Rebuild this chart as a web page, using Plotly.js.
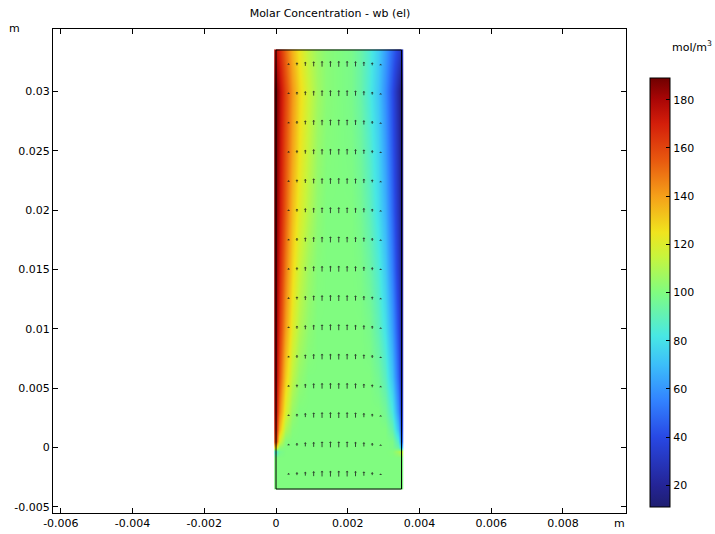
<!DOCTYPE html>
<html>
<head>
<meta charset="utf-8">
<script src="https://cdn.plot.ly/plotly-3.0.1.min.js"></script>
<style>html,body{margin:0;padding:0;background:#fff;}#plot{width:715px;height:534px;}</style>
</head>
<body>
<div id="plot"></div>
<script>
// ---- field grid (m) ----
const gridX = [0, 0.0001, 0.00026, 0.00045, 0.00065, 0.0009, 0.00115, 0.0014, 0.00175, 0.0021, 0.00235, 0.0026, 0.00285, 0.00305, 0.00324, 0.0034, 0.0035];
const gridY = [-0.0035, -0.0034, -0.0008, -0.0003, 0, 0.0005, 0.0015, 0.003, 0.006, 0.01, 0.015, 0.02, 0.025, 0.03, 0.0334, 0.0335];
// concentration (mol/m^3), one row per gridY value
const concRows = [
  [100,100,100,100,100,100,100,100,100,100,100,100,100,100,100,100,100],
  [100,100,100,100,100,100,100,100,100,100,100,100,100,100,100,100,100],
  [100,100,100,100,100,100,100,100,100,100,100,100,100,100,100,100,100],
  [85, 97, 100,100,100,100,100,100,100,100,100,100,100,100,101,108,115],
  [125,103,100,100,100,100,100,100,100,100,100,100,100,100, 99, 93, 72],
  [160,118,101,100,100,100,100,100,100,100,100,100,100,100, 99, 85, 50],
  [168,135,110,101,100,100,100,100,100,100,100,100,100,100, 92, 70, 42],
  [174,147,120,105,100,100,100,100,100,100,100,100,100, 96, 83, 58, 35],
  [179,158,131,113,104,100,100,100,100,100,100,100, 96, 88, 71, 47, 28],
  [182,165,141,121,110,103,100,100,100,100,100, 98, 90, 80, 62, 40, 24],
  [184,170,148,128,115,106,101,100,100,100, 99, 94, 85, 73, 54, 33, 20],
  [186,174,154,134,121,111,103,100,100,100, 97, 90, 79, 67, 48, 29, 17],
  [187,176,157,139,125,114,105,101,100, 99, 95, 87, 76, 62, 44, 26, 15],
  [188,178,160,142,128,116,107,102,100, 98, 93, 84, 72, 58, 41, 23, 13],
  [175,168,152,136,124,113,106,102,100, 98, 93, 85, 74, 62, 48, 36, 30],
  [175,168,152,136,124,113,106,102,100, 98, 93, 85, 74, 62, 48, 36, 30]
];
// ---- arrow field ----
const arrowX = [0.000117, 0.00035, 0.000583, 0.000817, 0.00105, 0.001283, 0.001517, 0.00175, 0.001983, 0.002217, 0.00245, 0.002683, 0.002917, 0.00315, 0.003383];
const arrowY = [-0.002267, 0.0002, 0.002667, 0.005133, 0.0076, 0.010067, 0.012533, 0.015, 0.017467, 0.019933, 0.0224, 0.024867, 0.027333, 0.0298, 0.032267];
const arrowSpeed = [0.1, 0.4, 0.6, 0.75, 0.88, 0.96, 1.0, 1.0, 0.97, 0.9, 0.78, 0.6, 0.25, 0.15, 0.0];
// ---- ticks ----
const xTickVals = [-0.006, -0.004, -0.002, 0, 0.002, 0.004, 0.006, 0.008];
const xTickText = ['-0.006', '-0.004', '-0.002', '0', '0.002', '0.004', '0.006', '0.008'];
const yTickVals = [-0.005, 0, 0.005, 0.01, 0.015, 0.02, 0.025, 0.03];
const yTickText = ['-0.005', '0', '0.005', '0.01', '0.015', '0.02', '0.025', '0.03'];
const cTickVals = [20, 40, 60, 80, 100, 120, 140, 160, 180];
// ---- colour map (value stops) ----
const cMin = 11, cMax = 189;
const cStops = [11, 20, 40, 55, 70, 82, 100, 115, 125, 140, 155, 170, 180, 189];
const cColors = ['rgb(30,30,112)', 'rgb(36,36,150)', 'rgb(40,72,228)', 'rgb(50,130,255)', 'rgb(60,190,250)', 'rgb(72,232,228)',
  'rgb(128,252,128)', 'rgb(200,245,60)', 'rgb(240,228,30)', 'rgb(245,160,25)', 'rgb(232,88,15)', 'rgb(212,30,10)', 'rgb(170,6,6)', 'rgb(112,0,0)'];

const colorscale = cStops.map((v, i) => [(v - cMin) / (cMax - cMin), cColors[i]]);
const FONT = 'DejaVu Sans, Verdana, sans-serif';

const heat = {
  type: 'heatmap', x: gridX, y: gridY, z: concRows, zsmooth: 'best',
  colorscale: colorscale, zmin: cMin, zmax: cMax, hoverinfo: 'skip',
  colorbar: {
    thickness: 20, thicknessmode: 'pixels', len: 429, lenmode: 'pixels',
    x: 1.0419, xanchor: 'left', y: 0.8988, yanchor: 'top', xpad: 0, ypad: 0,
    outlinewidth: 1, outlinecolor: '#000', ticks: 'inside', ticklen: 4, tickcolor: '#000',
    tickvals: cTickVals, ticktext: cTickVals.map(String),
    tickfont: {family: FONT, size: 11, color: '#000'}
  }
};

const Lmax = 0.00062;
const annotations = [];
arrowY.forEach(yc => {
  arrowX.forEach((xc, j) => {
    const s = arrowSpeed[j];
    if (s <= 0) return;
    const L = s * Lmax;
    annotations.push({
      x: xc, y: yc + L / 2, ax: xc, ay: yc - L / 2, xref: 'x', yref: 'y', axref: 'x', ayref: 'y',
      text: '', showarrow: true, arrowhead: 1, arrowsize: 0.5, arrowwidth: 1, arrowcolor: 'rgba(30,30,30,0.8)'
    });
  });
});
const labelFont = {family: FONT, size: 11, color: '#000'};
annotations.push(
  {xref: 'paper', yref: 'paper', x: -0.068, y: 1.002, xanchor: 'center', yanchor: 'middle', text: 'm', showarrow: false, font: labelFont},
  {xref: 'paper', yref: 'paper', x: 0.9895, y: -0.0227, xanchor: 'center', yanchor: 'middle', text: 'm', showarrow: false, font: labelFont},
  {xref: 'paper', yref: 'paper', x: 1.115, y: 0.963, xanchor: 'center', yanchor: 'middle', text: 'mol/m<sup>3</sup>', showarrow: false, font: labelFont}
);

const axisCommon = {
  showgrid: false, zeroline: false, showline: true, linecolor: '#000', linewidth: 1, mirror: 'ticks',
  ticks: 'inside', ticklen: 5, tickcolor: '#000', tickwidth: 1,
  tickfont: {family: FONT, size: 11, color: '#000'}
};

const layout = {
  width: 715, height: 534,
  margin: {l: 53, r: 89, t: 29, b: 21, pad: 0},
  paper_bgcolor: '#fff', plot_bgcolor: '#fff',
  title: {text: 'Molar Concentration - wb (el)', x: 330 / 715, xref: 'container', xanchor: 'center',
          y: 1 - 13 / 534, yref: 'container', yanchor: 'middle', font: {family: FONT, size: 11, color: '#000'}},
  xaxis: Object.assign({}, axisCommon, {range: [-0.00622, 0.00976], tickvals: xTickVals, ticktext: xTickText}),
  yaxis: Object.assign({}, axisCommon, {range: [-0.00552, 0.03527], tickvals: yTickVals, ticktext: yTickText}),
  shapes: [{type: 'rect', xref: 'x', yref: 'y', x0: gridX[0], x1: gridX[gridX.length - 1],
            y0: gridY[0], y1: gridY[gridY.length - 1], line: {color: '#000', width: 1}}],
  annotations: annotations,
  showlegend: false
};

Plotly.newPlot('plot', [heat], layout, {displayModeBar: false, staticPlot: true});
</script>
</body>
</html>
